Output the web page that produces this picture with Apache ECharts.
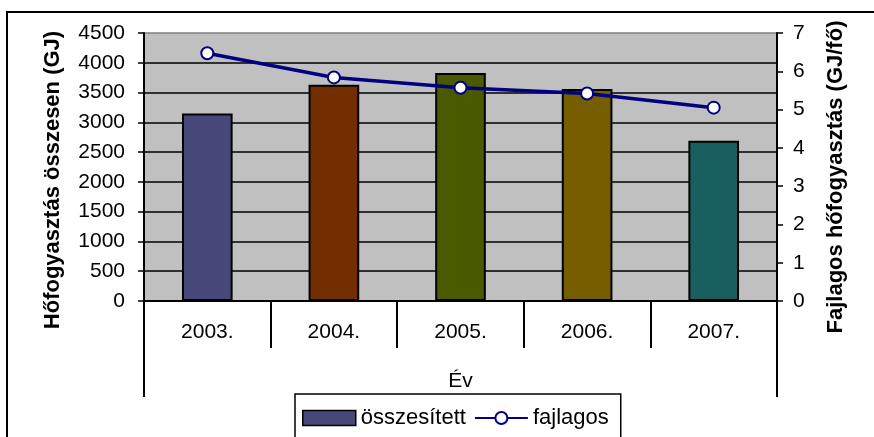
<!DOCTYPE html>
<html>
<head>
<meta charset="utf-8">
<script src="https://cdn.jsdelivr.net/npm/echarts@6/dist/echarts.min.js"></script>
<style>
html,body{margin:0;padding:0;background:#fff;}
#chart{width:874px;height:437px;}
</style>
</head>
<body>
<div id="chart"></div>
<script>
// ---- data ----
var categories = ['2003.', '2004.', '2005.', '2006.', '2007.'];
var totalGJ = [3150, 3630, 3830, 3560, 2690];        // összesített (GJ)
var perCapita = [6.47, 5.84, 5.57, 5.42, 5.05];      // fajlagos (GJ/fő)
var outerCategory = ['Év'];
var leftTicks = [0, 500, 1000, 1500, 2000, 2500, 3000, 3500, 4000, 4500];
var rightTicks = [0, 1, 2, 3, 4, 5, 6, 7];

var barColors = ['#47477A', '#732E00', '#4A5A00', '#765E00', '#1A5F5F'];
var FONT = '"Liberation Sans", Arial, sans-serif';

var chart = echarts.init(document.getElementById('chart'), null, {renderer: 'canvas'});

var gridColors = leftTicks.map(function (v, i) { return i === leftTicks.length - 1 ? '#808080' : '#000000'; });

var option = {
  backgroundColor: '#ffffff',
  animation: false,
  textStyle: {fontFamily: FONT},
  grid: {
    left: 144, right: 97, top: 33, bottom: 136,
    show: true, backgroundColor: '#C0C0C0', borderWidth: 0
  },
  legend: {
    left: 295, top: 394,
    padding: [13, 12, 12, 7],
    itemWidth: 53, itemHeight: 15, itemGap: 8,
    borderColor: '#000', borderWidth: 1.5, backgroundColor: '#fff',
    textStyle: {fontSize: 22, color: '#000', fontFamily: FONT},
    data: [
      {name: 'összesített', icon: 'rect', itemStyle: {color: barColors[0], borderColor: '#000', borderWidth: 1.5}},
      {name: 'fajlagos'}
    ]
  },
  xAxis: [
    {
      type: 'category', data: categories, position: 'bottom',
      axisLine: {show: true, lineStyle: {color: '#000', width: 2}},
      axisTick: {show: true, length: 47, lineStyle: {color: '#000', width: 2}},
      axisLabel: {fontSize: 21, color: '#000', margin: 21, fontFamily: FONT},
      splitLine: {show: false}
    },
    {
      type: 'category', data: outerCategory, position: 'bottom',
      axisLine: {show: false},
      axisTick: {show: true, length: 96, lineStyle: {color: '#000', width: 2}},
      axisLabel: {fontSize: 21, color: '#000', margin: 70, fontFamily: FONT},
      splitLine: {show: false}
    }
  ],
  yAxis: [
    {
      type: 'value', min: leftTicks[0], max: leftTicks[leftTicks.length - 1], interval: 500,
      position: 'left',
      axisLine: {show: true, lineStyle: {color: '#000', width: 2}},
      axisTick: {show: true, length: 6, lineStyle: {color: '#000', width: 1.5}},
      axisLabel: {fontSize: 21, color: '#000', margin: 19, fontFamily: FONT,
                  formatter: function (v) { return String(v); }},
      splitLine: {show: true, lineStyle: {color: gridColors, width: 1.5}}
    },
    {
      type: 'value', min: rightTicks[0], max: rightTicks[rightTicks.length - 1], interval: 1,
      position: 'right',
      axisLine: {show: true, lineStyle: {color: '#000', width: 2}},
      axisTick: {show: true, length: 6, lineStyle: {color: '#000', width: 1.5}},
      axisLabel: {fontSize: 21, color: '#000', margin: 16, fontFamily: FONT},
      splitLine: {show: false}
    }
  ],
  series: [
    {
      name: 'összesített', type: 'bar', xAxisIndex: 0, yAxisIndex: 0,
      barWidth: '40%',
      itemStyle: {color: barColors[0], borderColor: '#000', borderWidth: 2},
      data: totalGJ.map(function (v, i) {
        return {value: v, itemStyle: {color: barColors[i]}};
      }),
      z: 2
    },
    {
      name: 'fajlagos', type: 'line', xAxisIndex: 0, yAxisIndex: 1,
      data: perCapita,
      lineStyle: {color: '#000080', width: 3.5},
      itemStyle: {color: '#FFFFFF', borderColor: '#000080', borderWidth: 2},
      color: '#000080',
      symbol: 'circle', symbolSize: 12, showSymbol: true,
      z: 3
    }
  ],
  graphic: [
    {
      type: 'rect', z: 100, silent: true,
      shape: {x: 7, y: 12, width: 900, height: 460},
      style: {fill: 'none', stroke: '#000', lineWidth: 2}
    },
    {
      type: 'text', z: 100, x: 53, y: 180, rotation: Math.PI / 2,
      style: {text: 'Hőfogyasztás összesen (GJ)', font: 'bold 22px ' + FONT, fill: '#000',
              textAlign: 'center', textVerticalAlign: 'middle'}
    },
    {
      type: 'text', z: 100, x: 836, y: 177, rotation: Math.PI / 2,
      style: {text: 'Fajlagos hőfogyasztás (GJ/fő)', font: 'bold 22px ' + FONT, fill: '#000',
              textAlign: 'center', textVerticalAlign: 'middle'}
    }
  ]
};
chart.setOption(option);
</script>
</body>
</html>
